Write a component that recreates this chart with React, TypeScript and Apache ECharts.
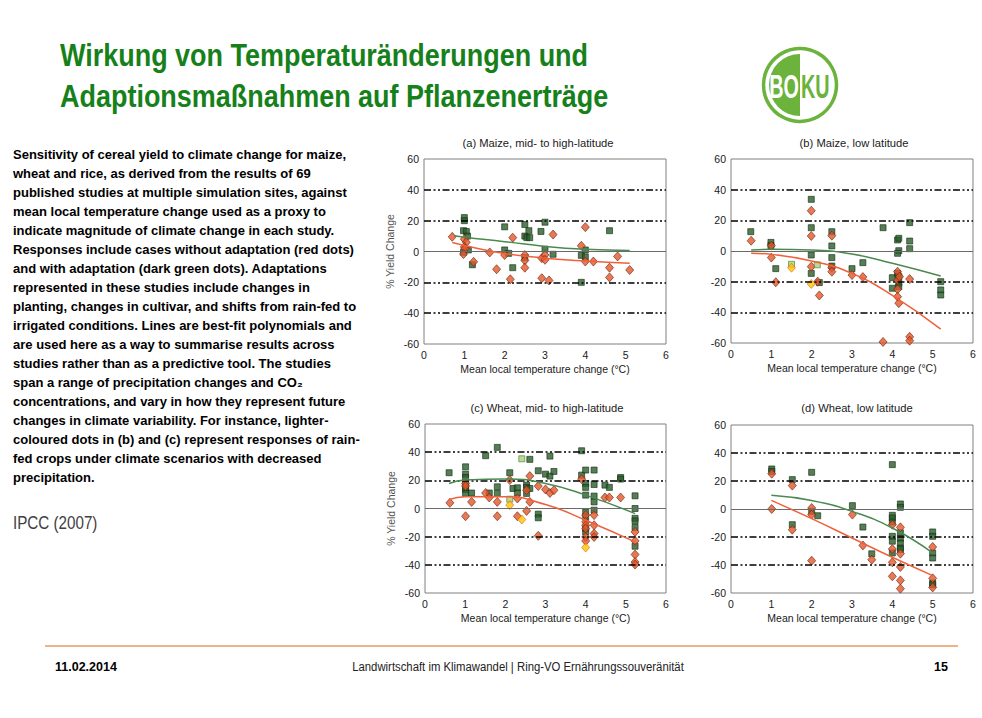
import React, { useEffect, useRef } from "react";
import * as echarts from "echarts";

// ---------- data ----------
const xTicks = [0, 1, 2, 3, 4, 5, 6];
const yTicks = [-60, -40, -20, 0, 20, 40, 60];
const refLines = [-40, -20, 20, 40];

const panelTitles = [
  "(a) Maize, mid- to high-latitude",
  "(b) Maize, low latitude",
  "(c) Wheat, mid- to high-latitude",
  "(d) Wheat, low latitude",
];

// (a) Maize, mid- to high-latitude
const aAdapt = [[1.0,22],[1.0,20],[0.98,13.5],[1.05,13],[1.08,10],[1.1,1],[0.98,-0.5],[1.2,-8.6],[2.0,16],[2.0,1],[2.1,-1.2],[2.2,-10.5],[2.5,17.5],[2.5,10],[2.55,9],[2.6,13.5],[2.62,9],[2.5,-4],[2.9,13],[3.0,19],[3.0,1.5],[3.2,-1.8],[3.9,-2.5],[3.9,-20],[4.0,1],[4.0,-3.5],[4.6,13.5]];
const aNoAdapt = [[0.7,9.5],[1.0,8],[1.05,6],[1.0,3],[1.02,2],[0.98,-1.7],[1.23,-6.7],[1.63,-0.6],[1.8,-11.5],[2.0,-2.3],[2.14,-18],[2.2,9],[2.5,-2.3],[2.5,-5.8],[2.5,-10.5],[2.92,-4.3],[2.92,-17.3],[3.0,-2.3],[3.0,-5.4],[3.1,-18.8],[3.2,11],[3.9,3.7],[4.0,15.8],[4.0,-6.5],[4.2,-6.5],[4.6,-10.5],[4.6,-16.8],[4.8,-3.2],[5.1,-12]];
const aAdaptDry: number[][] = [];
const aNoAdaptDry: number[][] = [];
const aAdaptFit = [[0.75,10.2],[1,9.2],[2,6.4],[3,3.3],[4,1.4],[5.1,0.6]];
const aNoAdaptFit = [[0.7,5.8],[1,3.9],[2,-1.3],[3,-4.3],[4,-6.2],[5.1,-7.6]];

// (b) Maize, low latitude
const bAdapt = [[0.49,12.6],[0.99,5.6],[0.99,3.5],[1.11,-11.5],[1.99,33.7],[1.99,15.2],[1.99,-2.6],[1.99,-14.6],[2.19,-20.6],[2.5,12.6],[2.5,3.3],[2.5,-4.3],[2.5,-9.8],[3.0,-11.5],[3.27,-7.6],[3.77,15.2],[4.0,-17.4],[4.0,-24.3],[4.13,7.2],[4.16,8.3],[4.16,0.2],[4.13,-1.5],[4.13,-14.6],[4.16,-16.7],[4.16,-21],[4.16,-23.3],[4.43,18.5],[4.43,6.5],[4.43,1.5],[5.2,-20],[5.2,-25.4],[5.2,-28.7]];
const bNoAdapt = [[0.5,6.7],[1.0,3.5],[1.0,-4.3],[1.11,-20.4],[1.99,26.3],[1.99,9.8],[1.99,-10.2],[2.15,-20],[2.19,-29],[2.5,10],[2.5,-10.9],[2.5,-13.5],[3.0,-15.7],[3.27,-17],[3.77,-59.3],[4.13,-13.5],[4.13,-19],[4.13,-25],[4.13,-29.8],[4.16,-34],[4.18,-16.7],[4.43,-18.3],[4.43,-56],[4.43,-58.5]];
const bAdaptDry = [[1.5,-8.7],[2.14,-9]];
const bNoAdaptDry = [[1.5,-10.9],[1.99,-21.5]];
const bAdaptFit = [[0.5,0.7],[1,1.1],[2,0.7],[3,-2],[4,-8],[5.2,-16.3]];
const bNoAdaptFit = [[0.5,-1.5],[1,-2.2],[2,-6.5],[3,-14.6],[4,-29],[5.2,-51]];

// (c) Wheat, mid- to high-latitude
const cAdapt = [[0.6,25.4],[1.01,29.6],[1.01,24.4],[1.01,22],[1.01,17.8],[1.01,15],[1.01,13.5],[1.01,10.7],[1.16,11],[1.51,37.5],[1.6,11],[1.8,43.4],[1.8,15.4],[1.8,10.7],[2.11,25.4],[2.19,14.2],[2.3,14.7],[2.3,11],[2.53,16.6],[2.53,15],[2.53,10.7],[2.61,14.2],[2.61,34.9],[2.82,26.8],[2.82,-4],[2.82,-6.6],[3.0,24.4],[3.11,37.2],[3.11,23],[3.21,26.3],[3.9,41],[3.9,23.7],[4.0,27.3],[4.0,17.8],[4.0,15],[4.0,9.5],[4.0,-2.4],[4.0,-6],[4.0,-14.2],[4.0,-16.6],[4.21,27.3],[4.21,17],[4.21,8.8],[4.21,4.7],[4.21,-1.2],[4.48,16.6],[4.59,15],[4.87,22],[4.87,20.9],[5.23,9],[5.23,0],[5.23,-7],[5.23,-8.8],[5.23,-13.5],[5.23,-26.8]];
const cNoAdapt = [[0.62,4],[1.01,-5.5],[1.01,17.8],[1.01,15.9],[1.16,4.7],[1.51,11],[1.6,7.8],[1.8,4.7],[1.8,-5.5],[2.11,20.2],[2.3,7.1],[2.3,-5.5],[2.53,13],[2.53,-1.7],[2.61,4.7],[2.61,23],[2.82,15.9],[2.82,-19.4],[3.0,13.5],[3.11,11],[3.21,13],[3.9,20.9],[4.0,-4.7],[4.0,-9.5],[4.0,-11.9],[4.0,-14.2],[4.0,-20.2],[4.0,-23],[4.21,-4.7],[4.21,-11.9],[4.21,-17.8],[4.21,-20.2],[4.48,7.8],[4.59,7.8],[4.87,7.8],[5.23,-16.6],[5.23,-23],[5.23,-32.7],[5.23,-38],[5.23,-39.8]];
const cAdaptDry = [[2.11,6.6],[2.41,35.3]];
const cNoAdaptDry = [[2.11,2.4],[2.41,-7.8],[4.0,-27.7]];
const cAdaptFit = [[0.6,17.8],[1,20.2],[2,21],[3,17.8],[4,9.5],[5.23,-3.6]];
const cNoAdaptFit = [[0.6,6.4],[1,8.3],[2,8.3],[3,2.8],[4,-8.3],[5.23,-23.7]];

// (d) Wheat, low latitude
const dAdapt = [[1.01,28.6],[1.01,26.9],[1.52,21],[1.52,-11.2],[2.0,26.2],[2.0,-1.7],[2.15,-4.8],[3.01,2.4],[3.27,-12.9],[3.49,-32],[4.0,31.7],[4.0,-4.5],[4.0,-6.4],[4.0,-9.3],[4.0,-19.5],[4.0,-23],[4.0,-31.4],[4.2,3.6],[4.2,1.2],[4.2,-17],[4.2,-21],[4.2,-24.3],[4.2,-27.9],[4.2,-29],[5.0,-16.4],[5.0,-19.5],[5.0,-31.4],[5.0,-35],[5.0,-52.9],[5.0,-54]];
const dNoAdapt = [[1.01,25.2],[1.01,0],[1.52,16.7],[1.52,-14.8],[2.0,0.7],[2.0,-4],[2.0,-36.9],[3.01,-4],[3.27,-26],[3.49,-36.2],[4.0,-11.2],[4.0,-28.6],[4.0,-38.1],[4.0,-48.1],[4.2,-13.1],[4.2,-31.9],[4.2,-41.4],[4.2,-51],[4.2,-56.9],[5.0,-27.1],[5.0,-49.5],[5.0,-56]];
const dAdaptDry: number[][] = [];
const dNoAdaptDry: number[][] = [];
const dAdaptFit = [[1,9.8],[2,6],[3,-1.7],[4,-13.6],[5,-31.4]];
const dNoAdaptFit = [[1,6.2],[2,-6.9],[3,-20.7],[4,-34.5],[5,-47.6]];

const titleLines = ["Wirkung von Temperaturänderungen und", "Adaptionsmaßnahmen auf Pflanzenerträge"];
const paragraph = [
  "Sensitivity of cereal yield to climate change for maize,",
  "wheat and rice, as derived from the results of 69",
  "published studies at multiple simulation sites, against",
  "mean local temperature change used as a proxy to",
  "indicate magnitude of climate change in each study.",
  "Responses include cases without adaptation (red dots)",
  "and with adaptation (dark green dots). Adaptations",
  "represented in these studies include changes in",
  "planting, changes in cultivar, and shifts from rain-fed to",
  "irrigated conditions. Lines are best-fit polynomials and",
  "are used here as a way to summarise results across",
  "studies rather than as a predictive tool. The studies",
  "span a range of precipitation changes and CO₂",
  "concentrations, and vary in how they represent future",
  "changes in climate variability. For instance, lighter-",
  "coloured dots in (b) and (c) represent responses of rain-",
  "fed crops under climate scenarios with decreased",
  "precipitation.",
];

// ---------- layout ----------
const panels = [
  { grid: { left: 424, top: 159, width: 242, height: 185 }, titleAt: [538, 143], yName: true,
    adapt: aAdapt, noAdapt: aNoAdapt, adaptDry: aAdaptDry, noAdaptDry: aNoAdaptDry, adaptFit: aAdaptFit, noAdaptFit: aNoAdaptFit },
  { grid: { left: 731, top: 159, width: 242, height: 184 }, titleAt: [854, 143], yName: false,
    adapt: bAdapt, noAdapt: bNoAdapt, adaptDry: bAdaptDry, noAdaptDry: bNoAdaptDry, adaptFit: bAdaptFit, noAdaptFit: bNoAdaptFit },
  { grid: { left: 425, top: 424, width: 241, height: 169 }, titleAt: [547, 408], yName: true,
    adapt: cAdapt, noAdapt: cNoAdapt, adaptDry: cAdaptDry, noAdaptDry: cNoAdaptDry, adaptFit: cAdaptFit, noAdaptFit: cNoAdaptFit },
  { grid: { left: 731, top: 425, width: 242, height: 168 }, titleAt: [857, 408], yName: false,
    adapt: dAdapt, noAdapt: dNoAdapt, adaptDry: dAdaptDry, noAdaptDry: dNoAdaptDry, adaptFit: dAdaptFit, noAdaptFit: dNoAdaptFit },
];

const SANS = "'Liberation Sans', Arial, Helvetica, sans-serif";
const DASHDOT = [7, 2.5, 2, 2.5, 2, 2.5];

function txt(x: number, y: number, text: string, o: any = {}) {
  return {
    type: "text",
    x,
    y,
    rotation: o.rotation || 0,
    scaleX: o.scaleX || 1,
    silent: true,
    style: {
      text,
      fill: o.fill || "#000",
      fontSize: o.fontSize || 12,
      fontWeight: o.fontWeight || "normal",
      fontFamily: o.fontFamily || SANS,
      align: o.align || "left",
      verticalAlign: "middle",
      textAlign: o.align || "left",
      textVerticalAlign: "middle",
    },
  };
}

function buildOption() {
  const grid: any[] = [];
  const xAxis: any[] = [];
  const yAxis: any[] = [];
  const series: any[] = [];
  const graphic: any[] = [];

  panels.forEach((p, i) => {
    grid.push({ ...p.grid, show: true, borderColor: "#808080", borderWidth: 1, backgroundColor: "transparent" });
    xAxis.push({
      gridIndex: i, type: "value", min: xTicks[0], max: xTicks[xTicks.length - 1], interval: 1,
      axisLine: { show: false }, axisTick: { show: false }, splitLine: { show: false },
      axisLabel: { margin: 5, color: "#1a1a1a", fontSize: 10.5, fontFamily: SANS },
      name: "Mean local temperature change (°C)", nameLocation: "middle", nameGap: 19,
      nameTextStyle: { color: "#1a1a1a", fontSize: 10.5, fontFamily: SANS },
    });
    yAxis.push({
      gridIndex: i, type: "value", min: yTicks[0], max: yTicks[yTicks.length - 1], interval: 20,
      axisLine: { show: false }, axisTick: { show: false }, splitLine: { show: false },
      axisLabel: { margin: 5, color: "#1a1a1a", fontSize: 10.5, fontFamily: SANS },
      name: p.yName ? "% Yield Change" : "", nameLocation: "middle", nameGap: 29,
      nameTextStyle: { color: "#555", fontSize: 10.5, fontFamily: SANS },
    });

    series.push({
      type: "scatter", xAxisIndex: i, yAxisIndex: i, data: p.adapt, symbol: "rect", symbolSize: 6,
      itemStyle: { color: "#2b5e2b", borderColor: "#143016", borderWidth: 0.8 }, z: 3,
      markLine: {
        silent: true, symbol: ["none", "none"], label: { show: false }, animation: false,
        data: [
          { yAxis: 0, lineStyle: { color: "#6a6a6a", width: 1, type: "solid" } },
          ...refLines.map((v) => ({ yAxis: v, lineStyle: { color: "#000", width: 1.5, type: DASHDOT } })),
        ],
      },
    });
    series.push({
      type: "scatter", xAxisIndex: i, yAxisIndex: i, data: p.noAdapt, symbol: "diamond", symbolSize: [8, 9],
      itemStyle: { color: "#e3562a", borderColor: "#6e2610", borderWidth: 0.8 }, z: 4,
    });
    series.push({
      type: "scatter", xAxisIndex: i, yAxisIndex: i, data: p.adaptDry, symbol: "rect", symbolSize: 6,
      itemStyle: { color: "#a8d27a", borderColor: "#4f7a2a", borderWidth: 0.8 }, z: 4,
    });
    series.push({
      type: "scatter", xAxisIndex: i, yAxisIndex: i, data: p.noAdaptDry, symbol: "diamond", symbolSize: [8, 9],
      itemStyle: { color: "#ffc400", borderColor: "#e06a1a", borderWidth: 0.8 }, z: 4,
    });
    series.push({
      type: "line", xAxisIndex: i, yAxisIndex: i, data: p.adaptFit, smooth: true, showSymbol: false,
      lineStyle: { color: "#4a8a4f", width: 1.5 }, z: 5,
    });
    series.push({
      type: "line", xAxisIndex: i, yAxisIndex: i, data: p.noAdaptFit, smooth: true, showSymbol: false,
      lineStyle: { color: "#f0603a", width: 1.5 }, z: 5,
    });

    graphic.push(txt(p.titleAt[0], p.titleAt[1], panelTitles[i], { align: "center", fontSize: 11.2, fill: "#1a1a1a" }));
  });

  // slide title (narrow look via horizontal scale)
  graphic.push(txt(60, 55, titleLines[0], { fontSize: 31, fontWeight: "bold", fill: "#16801a", scaleX: 0.87 }));
  graphic.push(txt(60, 96, titleLines[1], { fontSize: 31, fontWeight: "bold", fill: "#16801a", scaleX: 0.87 }));

  // paragraph
  paragraph.forEach((line, k) => {
    graphic.push(txt(13, 154 + k * 19.05, line, { fontSize: 13, fontWeight: "bold", fill: "#000" }));
  });
  graphic.push(txt(13, 522, "IPCC (2007)", { fontSize: 19, fill: "#404040", scaleX: 0.8 }));

  // logo
  const LG = "#6bb33d";
  graphic.push({
    type: "group", x: 800, y: 85, silent: true,
    children: [
      { type: "circle", shape: { cx: 0, cy: 0, r: 36.5 }, style: { fill: "#fff", stroke: LG, lineWidth: 3.5 } },
      { type: "sector", shape: { cx: 0, cy: 0, r0: 0, r: 31, startAngle: Math.PI / 2, endAngle: (3 * Math.PI) / 2, clockwise: true }, style: { fill: LG } },
      txt(-1, 1.5, "BO", { align: "right", fontSize: 33, fontWeight: "bold", fill: "#fff", scaleX: 0.6 }),
      txt(1, 1.5, "KU", { align: "left", fontSize: 33, fontWeight: "bold", fill: LG, scaleX: 0.6 }),
    ],
  });

  // footer
  graphic.push({ type: "line", silent: true, shape: { x1: 45, y1: 646, x2: 958, y2: 646 }, style: { stroke: "#e89a62", lineWidth: 1.5 } });
  graphic.push(txt(55, 667, "11.02.2014", { fontSize: 12.5, fontWeight: "bold", fill: "#000" }));
  graphic.push(txt(518, 667, "Landwirtschaft im Klimawandel | Ring-VO Ernährungssouveränität", { align: "center", fontSize: 13.5, fill: "#222", scaleX: 0.84 }));
  graphic.push(txt(948, 667, "15", { align: "right", fontSize: 12.5, fontWeight: "bold", fill: "#000" }));

  return { animation: false, backgroundColor: "#fff", grid, xAxis, yAxis, series, graphic };
}

export default function App() {
  const ref = useRef<HTMLDivElement>(null);
  useEffect(() => {
    if (!ref.current) return;
    const chart = echarts.init(ref.current, undefined, { renderer: "svg" });
    chart.setOption(buildOption() as any);
    return () => chart.dispose();
  }, []);
  return <div ref={ref} style={{ position: "absolute", left: 0, top: 0, width: 982, height: 718 }} />;
}
